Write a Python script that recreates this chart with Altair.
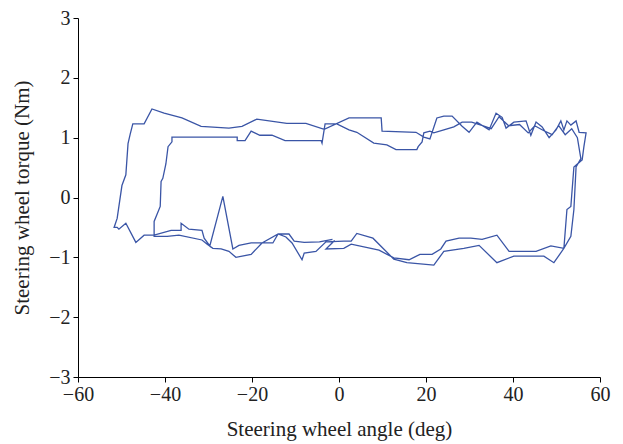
import altair as alt
import pandas as pd

# Steering wheel angle (deg) and torque (Nm), in recorded order
angle = [
    -1.5, -4.5, -8.0, -10.3, -11.5, -14.0, -15.2, -20.2, -23.0, -24.4, -26.7, -29.7, -31.0, -31.5,
    -34.5, -36.3, -36.3, -38.6, -42.5, -44.8, -46.7, -49.0, -50.6, -51.0, -51.7, -51.0, -49.9, -49.0,
    -48.5, -48.0, -47.4, -44.8, -43.0, -40.2, -36.1, -31.7, -25.3, -22.3, -18.9, -12.0, -7.6, -3.4,
    2.3, 9.7, 9.9, 17.7, 19.5, 20.9, 22.5, 24.1, 26.0, 28.3, 29.9, 31.7, 34.5, 36.1, 37.5, 38.4,
    40.2, 43.0, 44.1, 45.3, 46.7, 48.3, 49.9, 51.0, 51.7, 52.4, 53.3, 54.5, 55.2, 56.8, 56.3, 55.9,
    54.0, 53.3, 52.4, 51.7, 49.4, 47.1, 40.2, 36.3, 32.2, 28.7, 24.1, 21.8, 15.6, 12.6, 7.8, 4.1,
    2.8, 1.1, -3.0, -5.3, -8.0, -8.5, -10.8, -12.2, -14.0, -17.7, -20.2, -23.7, -25.3, -27.1, -29.0,
    -30.3, -31.5, -36.8, -39.5, -42.5, -42.5, -41.1, -40.9, -40.5, -39.8, -39.3, -38.4, -38.4, -23.4,
    -23.4, -21.6, -20.2, -18.2, -15.4, -12.4, -4.1, -3.9, -3.2, -0.5, 2.3, 4.1, 8.0, 11.0, 13.1,
    17.9, 18.2, 19.1, 19.5, 20.9, 21.8, 24.1, 26.4, 28.3, 30.5, 33.0, 35.0, 36.8, 39.0, 41.5, 43.5,
    45.0, 47.0, 49.0, 50.5, 52.0, 53.5, 54.8, 55.6, 54.5, 54.0, 53.3, 51.7, 48.7, 45.3, 39.1, 36.3,
    32.9, 30.3, 27.6, 24.6, 23.4, 21.4, 18.6, 16.1, 12.6, 9.2, 2.8, 1.1, -3.0, -1.0,
]
torque = [
    -0.70, -0.74, -0.75, -0.73, -0.61, -0.61, -0.76, -0.76, -0.80, -0.86, 0.02, -0.81, -0.68, -0.55,
    -0.53, -0.43, -0.55, -0.55, -0.63, -0.63, -0.75, -0.43, -0.53, -0.50, -0.50, -0.35, 0.20, 0.38,
    0.90, 1.06, 1.23, 1.23, 1.48, 1.41, 1.33, 1.19, 1.16, 1.19, 1.31, 1.24, 1.24, 1.14,
    1.33, 1.33, 1.11, 1.09, 1.01, 0.98, 1.33, 1.36, 1.36, 1.19, 1.09, 1.26, 1.13, 1.41, 1.34, 1.16,
    1.26, 1.28, 1.04, 1.26, 1.18, 1.00, 1.13, 1.28, 1.13, 1.28, 1.21, 1.28, 1.09, 1.08, 0.85, 0.63,
    0.51, -0.15, -0.20, -0.85, -1.09, -0.98, -0.98, -1.09, -0.80, -0.85, -0.90, -1.13, -1.09, -1.03, -0.68, -0.60,
    -0.73, -0.73, -0.74, -0.90, -0.93, -1.04, -0.76, -0.66, -0.61, -0.76, -0.95, -1.00, -0.90, -0.86, -0.85,
    -0.78, -0.71, -0.63, -0.65, -0.65, -0.40, -0.15, 0.27, 0.32, 0.56, 0.85, 0.93, 1.01, 1.01,
    0.95, 0.95, 1.11, 1.04, 1.04, 0.95, 0.95, 0.91, 1.23, 1.23, 1.13, 1.09, 0.91, 0.88, 0.80,
    0.80, 0.85, 0.93, 1.08, 1.11, 1.08, 1.13, 1.18, 1.26, 1.26, 1.20, 1.15, 1.35, 1.20, 1.22, 1.08,
    1.20, 1.12, 1.05, 1.20, 1.05, 1.15, 1.00, 0.65, 0.51, -0.20, -0.65, -0.85, -0.81, -0.90, -0.90, -0.63,
    -0.70, -0.68, -0.68, -0.73, -0.86, -0.95, -0.95, -1.04, -1.01, -0.88, -0.78, -0.85, -0.86, -0.72,
]

x_ticks = [-60, -40, -20, 0, 20, 40, 60]
y_ticks = [-3, -2, -1, 0, 1, 2, 3]

df = pd.DataFrame({"angle": angle, "torque": torque, "i": list(range(len(angle)))})

font = "Liberation Serif"

chart = (
    alt.Chart(df)
    .mark_line(color="#3a55a6", strokeWidth=1.3)
    .encode(
        x=alt.X(
            "angle:Q",
            scale=alt.Scale(domain=[-60, 60], nice=False, zero=False),
            axis=alt.Axis(
                values=x_ticks,
                title="Steering wheel angle (deg)",
                titlePadding=14,
                labelPadding=2,
                labelFlush=False,
            ),
        ),
        y=alt.Y(
            "torque:Q",
            scale=alt.Scale(domain=[-3, 3], nice=False, zero=False),
            axis=alt.Axis(
                values=y_ticks,
                title="Steering wheel torque (Nm)",
                titlePadding=16,
                labelPadding=3,
                labelFlush=False,
            ),
        ),
        order=alt.Order("i:Q"),
    )
    .properties(
        width=522,
        height=359,
        autosize=alt.AutoSizeParams(type="none"),
        padding={"left": 70, "top": 10, "right": 15, "bottom": 66},
    )
    .configure_view(stroke=None)
    .configure_axis(
        grid=False,
        domainColor="#000000",
        domainWidth=1,
        tickColor="#000000",
        tickSize=5,
        labelFont=font,
        labelFontSize=20,
        labelColor="#222222",
        titleFont=font,
        titleFontSize=21,
        titleFontWeight="normal",
        titleColor="#222222",
    )
)

chart.save("out.html", embed_options={"renderer": "svg", "actions": False})
